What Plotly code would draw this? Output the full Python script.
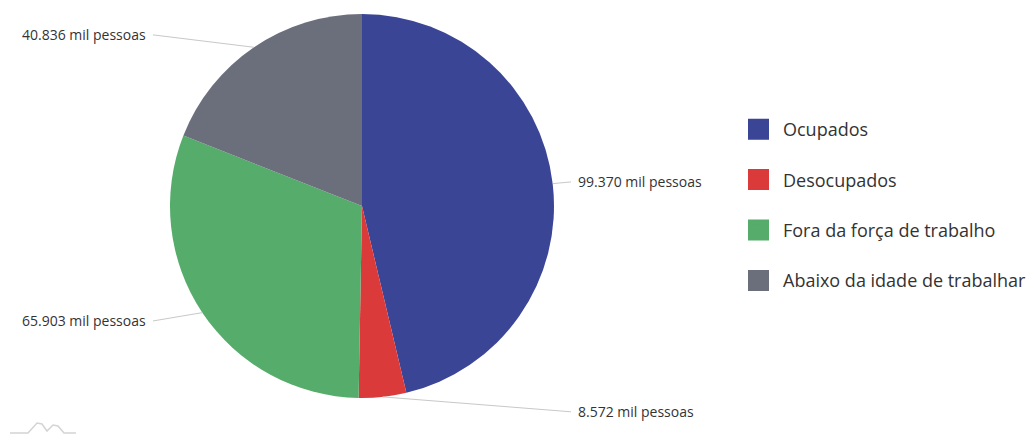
import math
import plotly.graph_objects as go

categories = ["Ocupados", "Desocupados", "Fora da força de trabalho", "Abaixo da idade de trabalhar"]
values = [99370, 8572, 65903, 40836]  # mil pessoas
colors = ["#3a4596", "#db3a3a", "#55ac6b", "#6b6f7c"]

W, H = 1026, 436
cx, cy, r = 362, 206, 192

def px(x):
    return x / W

def py(y):
    return 1 - y / H

fig = go.Figure()
fig.add_trace(go.Pie(
    labels=categories, values=values, sort=False, direction="clockwise", rotation=0,
    marker=dict(colors=colors, line=dict(color="white", width=0)),
    textinfo="none", hoverinfo="label+value", showlegend=False,
    domain=dict(x=[px(cx - r), px(cx + r)], y=[py(cy + r), py(cy - r)]),
))

# legend entries
for i, (c, col) in enumerate(zip(categories, colors)):
    fig.add_trace(go.Scatter(
        x=[None], y=[None], mode="markers", name=c, legendgroup=f"g{i}",
        marker=dict(symbol="square", size=16, color=col, line=dict(color=col, width=5)),
    ))

# outside labels with connectors, derived from slice angles
total = sum(values)
shapes = []
annotations = []
start = 0.0
for v in values:
    span = v / total * 2 * math.pi
    mid = start + span / 2
    start += span
    s, c = math.sin(mid), math.cos(mid)
    ex, ey = cx + r * s, cy - r * c
    ly = cy - (r + 15) * c
    side = 1 if s >= 0 else -1
    lx_end = cx + side * (r + 17)
    tx = cx + side * (r + 22)
    shapes.append(dict(type="line", xref="paper", yref="paper",
                       x0=px(ex), y0=py(ey), x1=px(lx_end), y1=py(ly),
                       line=dict(color="#c8c8c8", width=1)))
    label = f"{v:,}".replace(",", ".") + " mil pessoas"
    annotations.append(dict(xref="paper", yref="paper", x=px(tx), y=py(ly), text=label,
                            showarrow=False, xanchor="left" if side > 0 else "right",
                            yanchor="middle", font=dict(size=14, color="#333333")))

# faint logo outline at bottom-left
logo = [(10, 433), (28, 433), (37, 423), (42, 424), (47, 431), (53, 425), (58, 426), (64, 433), (76, 433)]
path = "M " + " L ".join(f"{px(x):.5f},{py(y):.5f}" for x, y in logo)
shapes.append(dict(type="path", xref="paper", yref="paper", path=path,
                   line=dict(color="#d4d4d4", width=1.5)))

fig.update_layout(
    width=W, height=H, margin=dict(l=0, r=0, t=0, b=0, autoexpand=False),
    paper_bgcolor="white", plot_bgcolor="white",
    font=dict(family="Open Sans", color="#333333"),
    xaxis=dict(visible=False), yaxis=dict(visible=False),
    shapes=shapes, annotations=annotations,
    legend=dict(x=px(734), y=py(111), xanchor="left", yanchor="top",
                font=dict(size=18, color="#333333"), tracegroupgap=24,
                itemwidth=39, itemclick=False, bgcolor="rgba(0,0,0,0)"),
)

fig.write_html("out.html", config={"displayModeBar": False},
               post_script="document.body.style.margin='0';")
